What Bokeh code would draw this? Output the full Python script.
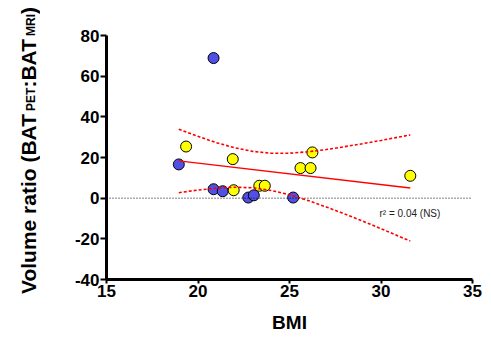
from bokeh.plotting import figure
from bokeh.models import Range1d, Label, FixedTicker, Span, Div
from bokeh.layouts import row
from bokeh.embed import file_html
from bokeh.resources import INLINE

# ---- data ----
blue_bmi = [20.85, 18.95, 20.85, 21.35, 22.75, 23.05, 25.2]
blue_ratio = [68.9, 16.6, 4.4, 3.4, 0.3, 1.4, 0.3]

yellow_bmi = [19.35, 21.9, 21.95, 23.35, 23.65, 25.6, 26.15, 26.25, 31.6]
yellow_ratio = [25.4, 19.2, 3.9, 6.1, 6.1, 14.8, 14.8, 22.5, 11.0]

fit_x = [18.95, 31.6]
fit_y = [18.3, 5.0]

band_x = [18.95, 20, 21, 22, 23, 24, 25, 26, 27, 28, 29, 30, 31.6]
band_upper = [33.9, 30.4, 27.3, 24.8, 23.0, 22.1, 22.1, 22.8, 23.9, 25.3, 26.8, 28.4, 31.1]
band_lower = [2.7, 4.0, 4.9, 5.4, 5.1, 3.8, 1.7, -1.1, -4.3, -7.7, -11.3, -15.0, -21.1]

x_ticks = [15, 20, 25, 30, 35]
x_tick_labels = ["15", "20", "25", "30", "35"]
y_ticks = [-40, -20, 0, 20, 40, 60, 80]
y_tick_labels = ["-40", "-20", "0", "20", "40", "60", "80"]

x_title = "BMI"
y_title_parts = ["Volume ratio (BAT", "PET", ":BAT", "MRI", ")"]
r2_text = "r\u00b2 = 0.04 (NS)"

# ---- layout ----
FONT = "Liberation Sans"
TOTAL_W, H = 483, 337
DIV_W = 40
FX0, FX1, FY0, FY1 = 106, 472, 35, 279   # frame edges in picture pixels


def px_to_x(px):
    return 15 + (px - FX0) * 20.0 / (FX1 - FX0)


def py_to_y(py):
    return 80 - (py - FY0) * 120.0 / (FY1 - FY0)


p = figure(width=TOTAL_W - DIV_W, height=H, output_backend="svg",
           toolbar_location=None,
           x_range=Range1d(15, 35), y_range=Range1d(-40, 80),
           min_border_left=FX0 - DIV_W, min_border_right=TOTAL_W - FX1,
           min_border_top=FY0, min_border_bottom=H - FY1)
p.outline_line_color = None
p.xgrid.visible = False
p.ygrid.visible = False

for ax in (p.xaxis[0], p.yaxis[0]):
    ax.axis_line_width = 3
    ax.axis_line_color = "black"
    ax.major_tick_line_width = 2
    ax.major_tick_line_color = "black"
    ax.major_tick_in = 0
    ax.minor_tick_line_color = None
    ax.major_label_text_font = FONT
    ax.major_label_text_font_style = "bold"
    ax.major_label_text_font_size = "17px"
    ax.major_label_text_color = "black"

p.xaxis.ticker = FixedTicker(ticks=x_ticks)
p.xaxis.major_label_overrides = {t: s for t, s in zip(x_ticks, x_tick_labels)}
p.xaxis.major_tick_out = 4
p.xaxis.major_label_standoff = 1
p.xaxis.axis_label = x_title
p.xaxis.axis_label_text_font = FONT
p.xaxis.axis_label_text_font_style = "bold"
p.xaxis.axis_label_text_font_size = "19px"
p.xaxis.axis_label_text_color = "black"
p.xaxis.axis_label_standoff = 12

p.yaxis.ticker = FixedTicker(ticks=y_ticks)
p.yaxis.major_label_overrides = {t: s for t, s in zip(y_ticks, y_tick_labels)}
p.yaxis.major_tick_out = 6
p.yaxis.major_label_standoff = 1

# zero reference line
p.add_layout(Span(location=0, dimension="width", line_color="black",
                  line_width=1, line_dash="1 2"))

# points
p.scatter(blue_bmi, blue_ratio, size=11, fill_color="#5050e6",
          line_color="black", line_width=1)
p.scatter(yellow_bmi, yellow_ratio, size=11, fill_color="#ffff00",
          line_color="black", line_width=1)

# regression and confidence bands
p.line(fit_x, fit_y, line_color="red", line_width=1.3)
p.line(band_x, band_upper, line_color="red", line_width=1.6, line_dash="3 2")
p.line(band_x, band_lower, line_color="red", line_width=1.6, line_dash="3 2")

# r^2 annotation
p.add_layout(Label(x=px_to_x(379), y=py_to_y(213), text=r2_text,
                   text_font=FONT, text_font_size="10px", text_color="#222222",
                   text_baseline="alphabetic", text_align="left"))

# y axis title with subscripts, rotated, as HTML text
sub_style = ("font-size:12px;vertical-align:-2px;"
             "margin-inline-start:3px;")
main, s1, mid, s2, end = y_title_parts
title_html = (
    f'<div style="width:{DIV_W}px;height:{H}px;box-sizing:border-box;'
    'padding-bottom:37px;padding-left:17px;display:flex;'
    'align-items:center;justify-content:center;">'
    '<span style="writing-mode:vertical-rl;transform:rotate(180deg);'
    f"font-family:'{FONT}';font-weight:bold;font-size:21px;line-height:1;"
    'white-space:nowrap;color:black;">'
    f'{main}<span style="{sub_style}">{s1}</span>{mid}'
    f'<span style="{sub_style}">{s2}</span>{end}'
    '</span></div>'
)
ytitle = Div(text=title_html, width=DIV_W, height=H, margin=0)

layout = row(ytitle, p, spacing=0)

open("out.html", "w").write(file_html(layout, INLINE))
